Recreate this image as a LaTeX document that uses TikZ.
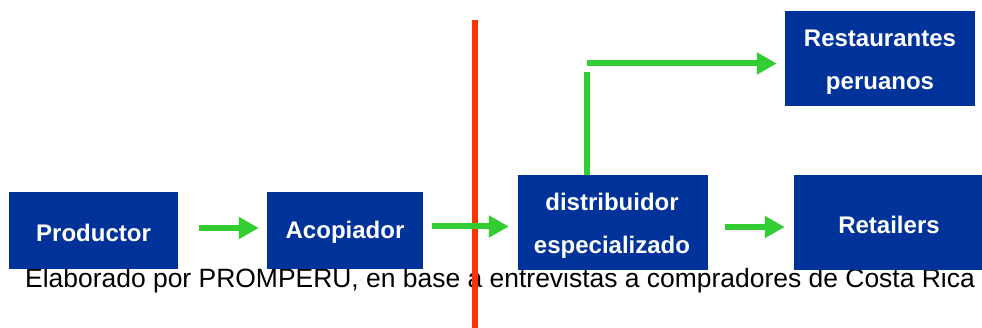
\documentclass[tikz,border=0pt]{standalone}
\usepackage{fontspec}
\setmainfont{Liberation Sans}
\usetikzlibrary{arrows.meta}
\definecolor{boxblue}{HTML}{003399}
\definecolor{arrgreen}{HTML}{33CC33}
\definecolor{linered}{HTML}{FF3300}
\tikzset{
  bluebox/.style={fill=boxblue, draw=none, rectangle, inner sep=0pt},
  boxtext/.style={inner sep=0pt, text=white, align=center,
    font={\bfseries\fontsize{24}{43}\selectfont}},
  garrow/.style={draw=arrgreen, line width=6pt, -{Triangle[length=20pt,width=21pt]}},
  gline/.style={draw=arrgreen, line width=6pt},
  redline/.style={draw=linered, line width=6pt},
  captiontext/.style={inner sep=0pt, font={\fontsize{26.45}{30}\selectfont}, text=black}
}
\begin{document}
\begin{tikzpicture}[x=1pt,y=-1pt]
\useasboundingbox (0,0) rectangle (982,328);
% caption
\node[captiontext, anchor=base west] (cap) at (25,288) {Elaborado por PROMPERU, en base a entrevistas a compradores de Costa Rica};
% red line
\coordinate (rtop) at (475,20);
\coordinate (rbot) at (475,328);
\draw[redline] (rtop) -- (rbot);
% boxes
\node[bluebox, minimum width=169pt, minimum height=77pt] (prod) at (93.5,230.5) {};
\node[bluebox, minimum width=156pt, minimum height=77pt] (acop) at (345,230.5) {};
\node[bluebox, minimum width=190pt, minimum height=95pt] (dist) at (613,222.5) {};
\node[bluebox, minimum width=190pt, minimum height=95pt] (ret) at (889,222.5) {};
\node[bluebox, minimum width=190pt, minimum height=95pt] (rest) at (880,58.5) {};
% box texts
\node[boxtext] (prodt) at ([yshift=-2pt]prod.center) {Productor};
\node[boxtext] (acopt) at ([yshift=-2pt]acop.center) {Acopiador};
\node[boxtext] (distt) at ([yshift=-3.5pt,xshift=-1pt]dist.center) {distribuidor\\especializado};
\node[boxtext] (rett) at ([yshift=-2pt]ret.center) {Retailers};
\node[boxtext] (restt) at ([yshift=-3.5pt]rest.center) {Restaurantes\\peruanos};
% arrows
\draw[garrow, shorten <=21pt, shorten >=8pt] ([yshift=2.5pt]prod.east) -- ([yshift=2.5pt]prod.east -| acop.west);
\draw[garrow, shorten <=9pt, shorten >=9pt] ([yshift=4pt]acop.east) -- ([yshift=4pt]acop.east -| dist.west);
\draw[garrow, shorten <=17pt, shorten >=9pt] ([yshift=-4.5pt]dist.east) -- ([yshift=-4.5pt]dist.east -| ret.west);
\coordinate (vtop) at (587,72);
\coordinate (hstart) at (587,63.5);
\draw[gline] (vtop |- dist.north) -- (vtop);
\draw[garrow, shorten >=8pt] (hstart) -- (hstart -| rest.west);
\end{tikzpicture}
\end{document}
